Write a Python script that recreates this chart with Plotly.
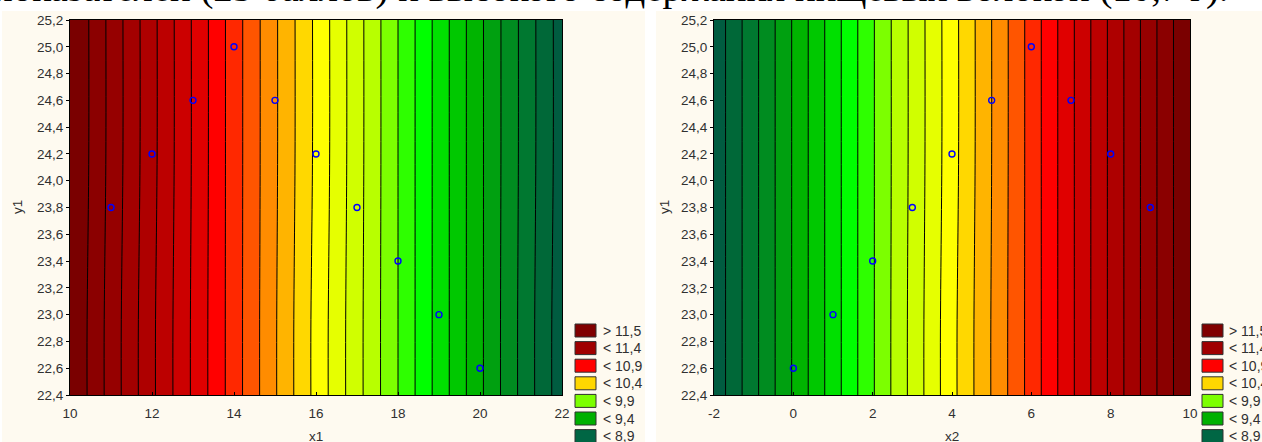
import plotly.graph_objects as go

# ---------------- data ----------------
heading_text = "показателей (25 баллов) и высокого содержания пищевых волокон (10,7 г)."

# fitted surface, left panel (x1 vs y1), values
x1_grid = [10, 12, 14, 16, 18, 20, 22]
y_grid_left = [22.4, 22.9, 24.2, 25.2]
z_left = [
    [11.60, 11.12, 10.65, 10.17, 9.70, 9.22, 8.74],
    [11.60, 11.12, 10.65, 10.17, 9.70, 9.22, 8.74],
    [11.61, 11.13, 10.65, 10.18, 9.70, 9.22, 8.75],
    [11.61, 11.13, 10.65, 10.18, 9.70, 9.22, 8.75],
]

# fitted surface, right panel (x2 vs y1)
x2_grid = [-2, 0, 2, 4, 6, 8, 10]
y_grid_right = [22.4, 22.9, 24.2, 25.2]
z_right = [
    [8.73, 9.21, 9.69, 10.17, 10.64, 11.12, 11.60],
    [8.73, 9.21, 9.69, 10.17, 10.64, 11.12, 11.60],
    [8.73, 9.21, 9.69, 10.16, 10.64, 11.12, 11.60],
    [8.73, 9.21, 9.69, 10.16, 10.64, 11.12, 11.60],
]

# observed points
x1_pts = [11, 12, 13, 14, 15, 16, 17, 18, 19, 20]
y1_pts_left = [23.8, 24.2, 24.6, 25.0, 24.6, 24.2, 23.8, 23.4, 23.0, 22.6]
x2_pts = [0, 1, 2, 3, 4, 5, 6, 7, 8, 9]
y1_pts_right = [22.6, 23.0, 23.4, 23.8, 24.2, 24.6, 25.0, 24.6, 24.2, 23.8]

# contour levels
level_start, level_end, level_step = 8.8, 11.5, 0.1

# tick labels
x1_ticks = [10, 12, 14, 16, 18, 20, 22]
x2_ticks = [-2, 0, 2, 4, 6, 8, 10]
x2_ticktext = ["-2", "0", "2", "4", "6", "8", "10"]

legend_labels = ["> 11,5", "< 11,4", "< 10,9", "< 10,4", "< 9,9", "< 9,4", "< 8,9"]
legend_colors = ["#800000", "#A00000", "#FF0000", "#FFD700", "#7CFF00", "#00B000", "#006644"]

# band colours from lowest to highest level
band_colors = [
    "#005C40", "#006838", "#007830", "#008C20", "#00A010", "#00B400", "#00C800",
    "#00E000", "#00FF00", "#2EFF00", "#7CFF00", "#B8FF00", "#D0FF00", "#E6FF00",
    "#FFFF00", "#FFD800", "#FFB400", "#FF8C00", "#FF5500", "#FF2800", "#FF0000",
    "#E00000", "#CC0000", "#BC0000", "#AE0000", "#A30000", "#960000", "#8B0000",
    "#7A0000",
]

# ---------------- layout helpers ----------------
W, H = 1262, 442
CREAM = "#FEFAF0"


def px(x):
    return x / W


def py(y):
    return 1 - y / H


n = len(band_colors) - 1
colorscale = [[i / n, c] for i, c in enumerate(band_colors)]

fig = go.Figure()

contour_common = dict(
    colorscale=colorscale,
    autocontour=False,
    contours=dict(start=level_start, end=level_end, size=level_step, coloring="fill"),
    line=dict(color="black", width=1),
    showscale=False,
    hoverinfo="skip",
)

fig.add_trace(go.Contour(x=x1_grid, y=y_grid_left, z=z_left, xaxis="x", yaxis="y", **contour_common))
fig.add_trace(go.Contour(x=x2_grid, y=y_grid_right, z=z_right, xaxis="x2", yaxis="y2", **contour_common))

marker = dict(symbol="circle-open", size=6, color="#0000FF", line=dict(width=1.4, color="#0000FF"))
fig.add_trace(go.Scatter(x=x1_pts, y=y1_pts_left, mode="markers", marker=marker, xaxis="x", yaxis="y", showlegend=False))
fig.add_trace(go.Scatter(x=x2_pts, y=y1_pts_right, mode="markers", marker=marker, xaxis="x2", yaxis="y2", showlegend=False))

tickfont = dict(family="Liberation Sans, Arial, sans-serif", size=13.5, color="#303030")

plot_top, plot_bottom = 20, 395
left_x0, left_x1 = 70, 562
right_x0, right_x1 = 714, 1190

axis_common = dict(showline=True, linecolor="#000000", linewidth=1, mirror=True,
                   showgrid=False, zeroline=False, tickfont=tickfont, ticklen=3,
                   tickcolor="#000000", automargin=False)

fig.update_layout(
    width=W, height=H,
    margin=dict(l=0, r=0, t=0, b=0, autoexpand=False),
    paper_bgcolor="white",
    plot_bgcolor=CREAM,
    separators=", ",
    showlegend=False,
    xaxis=dict(domain=[px(left_x0), px(left_x1)], range=[10, 22], tickvals=x1_ticks,
               ticks="inside", anchor="y", ticklabelstandoff=6, **axis_common),
    yaxis=dict(domain=[py(plot_bottom), py(plot_top)], range=[22.4, 25.2], dtick=0.2,
               tickformat=".1f", ticks="outside", anchor="x", ticklabelstandoff=0, **axis_common),
    xaxis2=dict(domain=[px(right_x0), px(right_x1)], range=[-2, 10], tickvals=x2_ticks,
                ticktext=x2_ticktext, ticks="inside", anchor="y2", ticklabelstandoff=6, **axis_common),
    yaxis2=dict(domain=[py(plot_bottom), py(plot_top)], range=[22.4, 25.2], dtick=0.2,
                tickformat=".1f", ticks="outside", anchor="x2", ticklabelstandoff=0, **axis_common),
)

shapes = []
# cream panels
shapes.append(dict(type="rect", xref="paper", yref="paper", x0=px(2), x1=px(645), y0=py(442), y1=py(11),
                   fillcolor=CREAM, line=dict(width=0), layer="below"))
shapes.append(dict(type="rect", xref="paper", yref="paper", x0=px(656), x1=px(1262), y0=py(442), y1=py(11),
                   fillcolor=CREAM, line=dict(width=0), layer="below"))

annotations = []
# legend blocks
for bx, tx in [(575, 601), (1202, 1227)]:
    for i, (lab, col) in enumerate(zip(legend_labels, legend_colors)):
        y0 = 324 + 17.6 * i
        shapes.append(dict(type="rect", xref="paper", yref="paper", x0=px(bx), x1=px(bx + 21),
                           y0=py(y0 + 13), y1=py(y0), fillcolor=col,
                           line=dict(color="#303030", width=1), layer="above"))
        annotations.append(dict(x=px(tx), y=py(y0 + 6.5), xref="paper", yref="paper", text=lab,
                                showarrow=False, xanchor="left", yanchor="middle",
                                font=dict(family="Liberation Sans, Arial, sans-serif", size=14, color="#303030")))

title_font = dict(family="Liberation Sans, Arial, sans-serif", size=13.5, color="#303030")
annotations.append(dict(x=px(316), y=py(436), xref="paper", yref="paper", text="x1", showarrow=False,
                        xanchor="center", yanchor="middle", font=title_font))
annotations.append(dict(x=px(952), y=py(436), xref="paper", yref="paper", text="x2", showarrow=False,
                        xanchor="center", yanchor="middle", font=title_font))
annotations.append(dict(x=px(17), y=py(207), xref="paper", yref="paper", text="y1", showarrow=False,
                        xanchor="center", yanchor="middle", textangle=-90, font=title_font))
annotations.append(dict(x=px(664), y=py(207), xref="paper", yref="paper", text="y1", showarrow=False,
                        xanchor="center", yanchor="middle", textangle=-90, font=title_font))

# partially visible document line above the charts
annotations.append(dict(x=px(-10), y=py(12), xref="paper", yref="paper", text=heading_text, showarrow=False,
                        xanchor="left", yanchor="bottom",
                        font=dict(family="Liberation Serif, Times New Roman, serif", size=38.8, color="black")))

fig.update_layout(shapes=shapes, annotations=annotations)

fig.write_html("out.html", config={"displayModeBar": False},
               post_script="document.body.style.margin='0';")
